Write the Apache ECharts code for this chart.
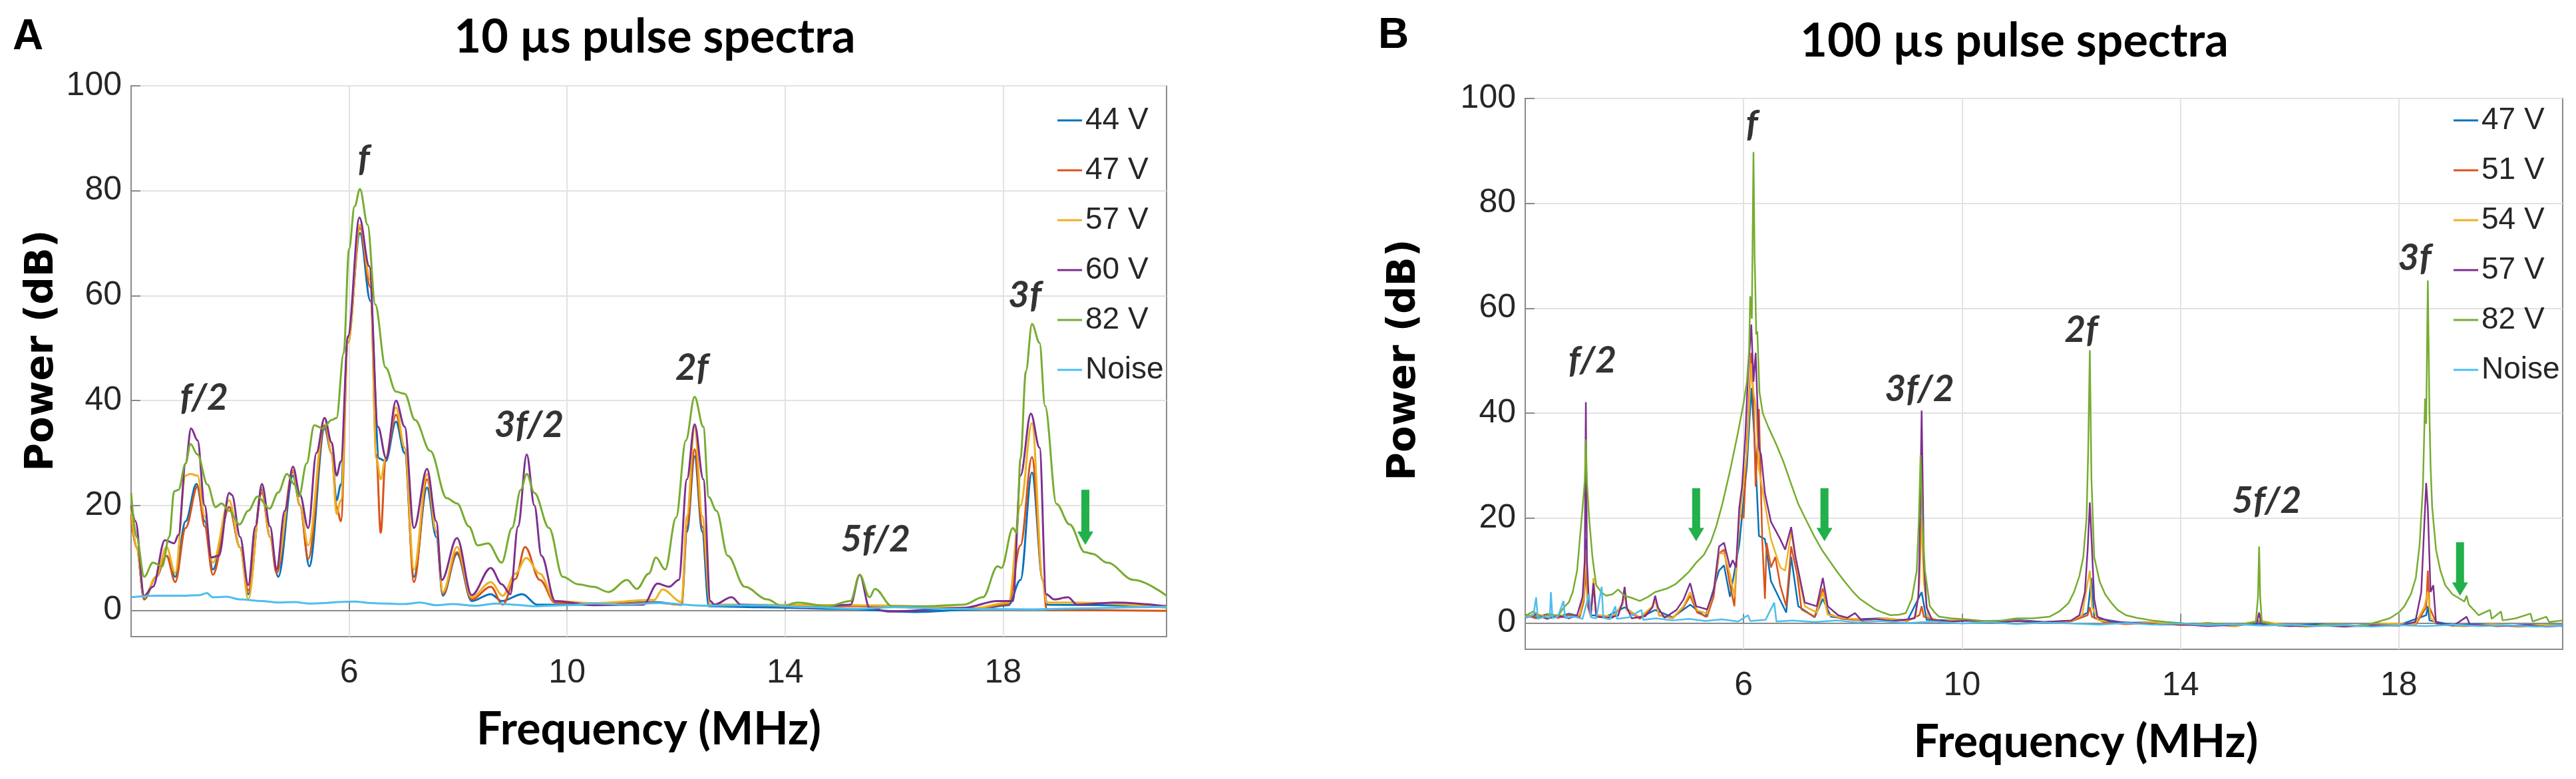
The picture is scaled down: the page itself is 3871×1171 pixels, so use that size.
<!DOCTYPE html>
<html lang="en">
<head>
    <meta charset="UTF-8">
    <title>pulse spectra</title>
    <script src="https://cdn.jsdelivr.net/npm/echarts@6.0.0/dist/echarts.min.js"></script>
    <style>
        * {
            margin: 0;
            padding: 0;
        }
        body {
            background-color: #fff;
            overflow: hidden;
        }
        #main {
            width: 3871px;
            height: 1171px;
        }
    </style>
</head>
<body>
<div id="main"></div>
<script type="text/javascript">

    // axis ticks
    var xTicks = [6, 10, 14, 18];
    var yTicks = [0, 20, 40, 60, 80, 100];

    var namesA = ['44 V', '47 V', '57 V', '60 V', '82 V', 'Noise'];
    var namesB = ['47 V', '51 V', '54 V', '57 V', '82 V', 'Noise'];
    var colors = ['#0072BD', '#D95319', '#EDB120', '#7E2F8E', '#77AC30', '#4DBEEE'];

    // ---- A: 10 us pulse spectra, [MHz, dB]
    var a44 = [[2.0,18.4],[2.1,12],[2.24,2.1],[2.46,6.4],[2.65,10.4],[2.81,6.4],[3.0,17],[3.2,24.1],[3.35,17],[3.5,7.8],[3.8,19.7],[4.0,12],[4.15,3.1],[4.4,23],[4.55,14],[4.7,6.4],[4.97,25.7],[5.1,20],[5.27,8.4],[5.55,34.7],[5.68,30],[5.77,21],[5.85,24],[5.98,52],[6.2,71.9],[6.39,59],[6.55,29],[6.67,28.4],[6.86,36],[7.02,30],[7.19,6.4],[7.43,23.4],[7.6,14],[7.72,2.8],[7.98,10.8],[8.25,1.8],[8.6,3.1],[8.8,1.8],[9.18,3.1],[9.45,1.1],[10.48,1.1],[11.6,1.6],[12.1,1.1],[12.2,15],[12.34,29.4],[12.48,15],[12.6,0.8],[13.5,0.6],[15,0.3],[16.4,-0.3],[17.5,0.2],[18.1,1],[18.32,5.8],[18.53,26.3],[18.73,5.8],[18.81,1.1],[21,0.8]];
    var a47 = [[2.0,17.7],[2.1,12],[2.24,2.1],[2.46,6.4],[2.65,10.4],[2.81,5.4],[3.0,15.7],[3.22,23.7],[3.35,16],[3.5,6.8],[3.8,19.7],[4.0,12],[4.15,3.8],[4.4,22.4],[4.55,14],[4.67,7.1],[4.97,26.4],[5.1,20],[5.25,9.8],[5.55,35.3],[5.68,30],[5.77,19.7],[5.85,17],[5.98,51],[6.2,72.9],[6.39,61.6],[6.5,29.7],[6.58,14.8],[6.67,29],[6.86,37.3],[7.02,31],[7.19,5.4],[7.43,25],[7.6,15],[7.72,3.1],[7.98,11.1],[8.25,2.1],[8.6,4.5],[8.82,1.1],[9.05,6],[9.23,12.1],[9.5,5.8],[9.78,1.5],[10.48,1.1],[11.6,1.5],[12.1,1.1],[12.2,16],[12.34,30.7],[12.48,16],[12.63,1.1],[15.37,0.8],[17.5,0.3],[18.1,1.2],[18.32,12.4],[18.53,29.2],[18.73,5.8],[18.8,0.1],[21,-0.1]];
    var a57 = [[2.0,19.5],[2.1,12],[2.24,2.5],[2.46,6.4],[2.65,12.1],[2.81,7.1],[3.0,25.7],[3.09,26],[3.22,25.7],[3.35,18],[3.5,9.1],[3.8,21],[4.0,12],[4.15,2.1],[4.4,23.4],[4.55,14],[4.67,8.1],[4.97,26.7],[5.1,20],[5.25,12.4],[5.55,36.7],[5.68,30],[5.77,18.4],[5.85,21],[5.98,51],[6.2,73.5],[6.39,63],[6.5,29],[6.58,25],[6.67,29],[6.86,38.7],[7.02,31],[7.19,7.8],[7.43,26],[7.6,15],[7.72,3.5],[7.98,12.1],[8.25,2.5],[8.6,5.4],[8.82,2.8],[9.05,7],[9.25,10],[9.5,7],[9.78,1.8],[10.48,1.4],[11.6,2],[11.75,4],[12.1,1.6],[12.2,18],[12.34,35],[12.48,18],[12.63,1.1],[15.4,1],[17.5,0.5],[18.1,1.5],[18.32,20],[18.53,35.7],[18.73,5.8],[18.8,1.5],[19.3,1.5],[21,0.5]];
    var a60 = [[2.0,20],[2.08,17],[2.24,2.8],[2.4,4.5],[2.62,13.4],[2.79,12.8],[2.87,14.4],[3.0,28],[3.1,34.7],[3.22,32.4],[3.35,20],[3.47,10.1],[3.61,10.4],[3.8,22.4],[3.85,22],[4.0,14],[4.15,4.8],[4.28,16],[4.4,24.1],[4.55,16],[4.67,7.8],[4.82,19],[4.97,27.4],[5.1,22],[5.25,15.7],[5.4,30],[5.55,36.7],[5.68,32],[5.77,25.7],[5.85,28.4],[5.98,52.3],[6.19,74.9],[6.37,65.6],[6.53,35],[6.68,29],[6.86,40],[7.02,35],[7.19,15.7],[7.43,27],[7.6,17],[7.7,5.8],[7.98,13.8],[8.25,2.9],[8.6,8.1],[8.8,5],[8.96,3.1],[9.1,16],[9.26,29.7],[9.4,20],[9.53,10.4],[9.78,1.8],[10.48,1],[11.4,1.1],[11.66,5.1],[11.87,4.5],[12.05,5.8],[12.2,25],[12.34,35.5],[12.5,25],[12.63,1.8],[12.7,1.1],[13.02,2.5],[13.19,1.1],[14.5,0.5],[15.2,1.1],[15.37,6.8],[15.55,0.5],[15.89,-0.2],[17.28,0.5],[17.9,1.8],[18.18,1.8],[18.32,25.7],[18.51,37.5],[18.67,31],[18.79,3.1],[18.94,2.1],[19.19,2.5],[19.36,1.1],[20.05,1.5],[21,0.8]];
    var a82 = [[2.0,22.4],[2.1,14],[2.24,6.4],[2.4,9.1],[2.57,8.4],[2.7,14],[2.79,22.7],[2.87,23],[3.0,28],[3.09,31.7],[3.22,29.7],[3.4,24],[3.55,19.7],[3.66,20.4],[3.8,19],[3.99,16.4],[4.15,19],[4.32,21.7],[4.54,19.4],[4.7,22.5],[4.86,26],[5.0,24],[5.08,21.7],[5.22,28],[5.36,35.3],[5.52,34.7],[5.68,36.3],[5.77,36.7],[5.9,49],[6.0,68.9],[6.1,77],[6.2,80.3],[6.34,73.5],[6.48,58.3],[6.67,46.3],[6.86,41.7],[7.02,41.3],[7.21,36.3],[7.49,30.4],[7.79,21.4],[7.98,20.4],[8.2,16],[8.36,12.4],[8.55,12.8],[8.8,9.1],[8.99,15.7],[9.15,23],[9.26,26],[9.4,22.4],[9.67,15.7],[9.92,6.4],[10.2,5],[10.48,4.5],[10.76,3.5],[11.1,5.8],[11.28,4.1],[11.5,7],[11.63,10.1],[11.8,7.8],[12.0,17.7],[12.18,32.4],[12.34,40.7],[12.5,35],[12.6,21.6],[12.74,19],[12.95,10.4],[13.26,4.5],[13.67,2.1],[13.95,0.8],[14.23,1.5],[14.78,0.8],[15.2,1.8],[15.37,6.8],[15.55,2.5],[15.65,4.1],[15.96,0.8],[16.59,0.8],[17.28,1.1],[17.63,2.5],[17.9,8.4],[17.97,8.1],[18.18,15.7],[18.25,14.8],[18.32,29],[18.42,45.6],[18.53,54.6],[18.67,51],[18.77,39],[18.98,20.3],[19.22,16.4],[19.5,11.1],[19.64,10.8],[19.91,9.1],[20.4,5.8],[21,2.8]];
    var aNoise = [[2.0,2.5],[2.46,2.8],[3.0,2.8],[3.25,2.9],[3.39,3.3],[3.5,2.5],[3.75,2.6],[4.0,2.1],[4.4,1.8],[4.7,1.5],[5.0,1.6],[5.27,1.3],[5.55,1.4],[5.8,1.6],[6.1,1.7],[6.4,1.4],[6.67,1.3],[7.0,1.2],[7.3,1.5],[7.6,1.0],[7.9,1.2],[8.3,0.9],[8.7,1.3],[9.0,1.1],[9.4,0.8],[10.0,1.0],[10.5,1.3],[11.0,1.1],[11.7,1.4],[12.5,0.9],[13.5,1.0],[14.5,0.6],[15.3,0.3],[16.0,0.6],[17.0,0.3],[18.5,0.2],[19.5,0.4],[20.5,0.6],[21,0.7]];

    // ---- B: 100 us pulse spectra, [MHz, dB]
    var b47 = [[2.0,1.6],[2.2,1.1],[2.4,1.7],[2.6,1.2],[2.8,1.8],[3.0,1.3],[3.07,6],[3.11,16],[3.15,4],[3.2,1.5],[3.5,1.3],[3.82,3],[4.1,1],[4.38,2.5],[4.7,1.1],[5.02,3.5],[5.3,1.2],[5.55,10],[5.64,11],[5.75,5],[5.92,15],[6.06,30],[6.14,44.8],[6.2,35],[6.28,16.6],[6.39,16],[6.5,8],[6.78,2],[6.87,12.6],[7.0,3.2],[7.3,1.1],[7.45,4.6],[7.6,1.2],[8.0,0.7],[8.5,0.9],[9.0,0.5],[9.26,5.9],[9.35,0.6],[10.0,0.5],[10.5,0.3],[11.0,0.6],[11.5,0.2],[12.0,0.4],[12.3,2],[12.37,8.6],[12.42,1],[13.0,0],[13.5,0.2],[14.0,-0.3],[14.5,0],[15.0,-0.4],[15.5,-0.1],[16.0,-0.5],[16.5,-0.2],[17.0,-0.6],[17.5,-0.3],[18.0,-0.4],[18.5,1.5],[18.53,3.2],[18.56,0.5],[19.0,-0.4],[19.5,-0.2],[20.0,-0.5],[20.5,-0.3],[21,-0.4]];
    var b51 = [[2.0,1.5],[2.2,0.9],[2.4,1.6],[2.6,1.0],[2.8,1.5],[3.0,1.2],[3.07,4],[3.11,10],[3.15,3],[3.2,1.3],[3.25,7.2],[3.3,1.5],[3.6,1.0],[3.78,3.5],[3.82,6.2],[3.86,2.5],[4.1,0.8],[4.33,3],[4.38,4.6],[4.45,1.5],[4.7,0.9],[4.9,3],[5.02,5.2],[5.15,2],[5.33,1.2],[5.45,5],[5.55,13.3],[5.64,14],[5.75,7.2],[5.83,3.2],[5.92,20.7],[6.0,20],[6.06,34.1],[6.14,51.5],[6.18,42],[6.22,26],[6.28,40.8],[6.34,16],[6.39,4.6],[6.42,15.3],[6.5,10.6],[6.58,12.6],[6.67,7.2],[6.78,3.2],[6.87,14.6],[6.98,9.3],[7.06,2.6],[7.3,1.2],[7.45,6.6],[7.54,1.8],[7.8,0.8],[8.2,0.5],[8.6,0.9],[9.0,0.4],[9.22,1.5],[9.26,3.2],[9.3,1.2],[9.6,0.3],[10.0,0.6],[10.5,0.1],[11.0,0.4],[11.5,0],[12.0,0.3],[12.3,1.5],[12.34,3],[12.38,1.2],[12.6,0.2],[13.0,-0.2],[13.5,0.1],[14.0,-0.4],[14.5,-0.2],[15.0,-0.6],[15.44,0.3],[15.8,-0.3],[16.3,-0.7],[16.8,-0.3],[17.3,-0.6],[17.8,-0.2],[18.3,-0.4],[18.5,3],[18.53,10],[18.56,3],[18.7,-0.3],[19.2,-0.6],[19.7,-0.3],[20.2,-0.7],[20.6,-0.4],[21,-0.6]];
    var b54 = [[2.0,1.2],[2.2,1.8],[2.4,1.1],[2.6,1.6],[2.8,1.0],[3.0,1.6],[3.07,5],[3.11,14],[3.15,4],[3.2,1.4],[3.25,8.6],[3.3,1.6],[3.6,1.2],[3.78,3.6],[3.82,6],[3.86,2.6],[4.1,1.1],[4.33,3.2],[4.38,4.6],[4.45,1.4],[4.7,1.0],[4.9,3.2],[5.02,5.9],[5.15,2.4],[5.33,1.8],[5.45,6],[5.55,13.3],[5.64,13.3],[5.75,9.3],[5.83,5],[5.92,19.3],[6.06,32.8],[6.14,49.5],[6.18,44],[6.22,41.5],[6.28,29.4],[6.39,22.7],[6.5,16],[6.67,10.6],[6.76,10],[6.87,17.3],[7.0,9.3],[7.12,3.2],[7.34,2],[7.45,5.9],[7.54,1.6],[7.8,1],[8.2,0.6],[8.6,0.9],[9.0,0.5],[9.15,1.2],[9.22,7.6],[9.26,20],[9.3,7.6],[9.38,1.2],[9.6,0.4],[10.0,0.7],[10.5,0.2],[11.0,0.5],[11.5,0.1],[12.0,0.4],[12.2,1.5],[12.29,7.2],[12.34,10],[12.38,3],[12.5,0.5],[13.0,-0.1],[13.5,0.2],[14.0,-0.3],[14.5,-0.1],[15.0,-0.5],[15.44,0.5],[15.8,-0.2],[16.3,-0.6],[16.8,-0.2],[17.3,-0.5],[17.8,-0.1],[18.3,-0.2],[18.47,3.2],[18.53,6],[18.58,1],[18.7,-0.2],[19.2,-0.5],[19.7,-0.2],[20.2,-0.6],[20.6,-0.3],[21,-0.5]];
    var b57 = [[2.0,1.0],[2.2,1.6],[2.4,0.8],[2.6,1.4],[2.8,0.9],[2.95,1.5],[3.05,5],[3.09,12],[3.11,42.1],[3.13,12],[3.17,3],[3.2,1.6],[3.25,7.6],[3.3,1.2],[3.5,1.0],[3.7,1.4],[3.78,4],[3.82,6.9],[3.86,3],[3.95,0.9],[4.2,1.3],[4.33,3],[4.38,5.2],[4.43,3],[4.55,1.0],[4.77,2.5],[4.9,4.5],[5.02,7.6],[5.13,3.2],[5.33,2.6],[5.45,6],[5.55,14.6],[5.64,15.3],[5.75,10.6],[5.8,12],[5.86,10.6],[5.92,22],[5.97,26],[6.03,35.4],[6.08,47.5],[6.14,56.9],[6.18,46],[6.22,51.5],[6.28,33.4],[6.32,32],[6.39,24.7],[6.5,19.3],[6.67,16],[6.76,14],[6.87,18.3],[6.95,12.6],[7.12,3.9],[7.34,3.2],[7.45,8.6],[7.54,3.2],[7.73,1.5],[7.9,1.0],[8.04,1.9],[8.15,0.6],[8.4,0.8],[8.7,0.4],[9.0,0.7],[9.13,0.9],[9.2,5],[9.22,12.6],[9.26,40.5],[9.3,12],[9.35,3],[9.45,0.6],[9.8,0.3],[10.2,0.5],[10.6,0.1],[11.0,0.4],[11.5,0.2],[12.0,0.5],[12.15,1.5],[12.25,5.9],[12.3,14],[12.34,23],[12.38,14],[12.42,4.6],[12.48,1.2],[12.7,0.3],[13.2,0],[13.6,-0.3],[14.0,-0.2],[14.5,-0.6],[15.0,-0.3],[15.4,0.1],[15.44,2],[15.48,-0.2],[16.0,-0.6],[16.5,-0.4],[17.0,-0.7],[17.5,-0.4],[18.0,-0.5],[18.3,0.2],[18.41,5.9],[18.5,26.7],[18.53,22],[18.58,5.9],[18.63,7.2],[18.68,0],[19.0,-0.5],[19.24,1.2],[19.3,-0.3],[19.8,-0.6],[20.3,-0.4],[20.7,-0.7],[21,-0.5]];
    var b82 = [[2.0,1.4],[2.15,2.2],[2.3,1.0],[2.45,1.8],[2.6,1.3],[2.7,2.9],[2.8,4],[2.87,5.9],[2.95,10],[3.0,16],[3.05,22],[3.09,27],[3.11,35],[3.13,27],[3.17,20],[3.23,12.6],[3.3,7.2],[3.4,5.8],[3.48,5.2],[3.6,5.5],[3.7,6.4],[3.82,5.2],[3.95,4.8],[4.1,4.2],[4.25,5],[4.38,5.9],[4.6,6.6],[4.75,7.4],[4.88,8.6],[5.0,9.8],[5.13,11.5],[5.27,13],[5.4,15.5],[5.5,18.5],[5.61,22.7],[5.75,29],[5.89,36],[6.0,42],[6.06,46],[6.1,52],[6.12,62.3],[6.15,58],[6.18,89.8],[6.2,70],[6.21,66],[6.23,55],[6.25,55.6],[6.29,44],[6.35,40],[6.45,37.4],[6.6,34],[6.73,30.7],[6.87,26.5],[7.0,22.7],[7.15,19.5],[7.29,16.6],[7.43,14],[7.57,11.9],[7.71,9.8],[7.85,7.9],[8.0,6],[8.13,4.6],[8.27,3.6],[8.41,2.6],[8.55,2],[8.69,1.5],[8.85,1.6],[8.97,1.9],[9.08,4.6],[9.17,10],[9.21,20],[9.24,32],[9.27,20],[9.32,10],[9.41,3.2],[9.5,2],[9.58,1.2],[9.8,0.9],[10.08,0.7],[10.4,0.4],[10.74,0.5],[11.0,0.9],[11.3,0.9],[11.6,1.2],[11.78,2.2],[11.95,3.8],[12.05,5.9],[12.15,9],[12.22,12.6],[12.28,20],[12.31,32.8],[12.34,52],[12.36,35],[12.37,27.4],[12.42,12.6],[12.52,7.9],[12.62,5.5],[12.73,3.9],[12.85,2.5],[13.0,1.5],[13.2,1],[13.48,0.5],[13.75,0.2],[14.0,0],[14.3,-0.3],[14.7,-0.1],[15.0,-0.4],[15.38,0.2],[15.42,5],[15.44,14.6],[15.46,5],[15.49,0.2],[15.8,-0.5],[16.06,-0.3],[16.4,-0.6],[16.8,-0.2],[17.2,-0.5],[17.42,-0.3],[17.6,0.2],[17.83,0.9],[18.0,2],[18.1,3.2],[18.22,5.5],[18.31,8.6],[18.38,15],[18.44,26],[18.48,42.8],[18.5,38],[18.53,65.3],[18.56,40],[18.58,30],[18.61,22],[18.68,14],[18.76,10],[18.85,7.2],[18.98,5.5],[19.12,4.6],[19.2,4.1],[19.24,5.2],[19.28,3.5],[19.46,1.5],[19.67,2.5],[19.7,0.8],[19.87,2.2],[19.9,0.5],[20.14,0.9],[20.41,1.8],[20.45,0.3],[20.7,1.2],[20.75,0.2],[21,0.5]];
    var bNoise = [[2.0,1.0],[2.15,1.5],[2.2,4.9],[2.23,0.8],[2.35,1.2],[2.45,1.0],[2.47,5.9],[2.5,0.9],[2.6,1.3],[2.7,4.2],[2.73,1.0],[2.9,1.2],[3.05,0.8],[3.17,5.6],[3.2,1.1],[3.3,0.9],[3.4,6.9],[3.43,1.0],[3.55,0.7],[3.65,3.2],[3.68,0.8],[3.9,1.1],[4.13,2.5],[4.16,0.6],[4.4,0.9],[4.7,0.5],[5.0,0.8],[5.3,0.4],[5.6,0.7],[5.9,0.3],[6.08,1.5],[6.12,0.4],[6.4,0.6],[6.56,3.9],[6.6,0.3],[6.9,0.5],[7.3,0.2],[7.7,0.5],[8.1,0.1],[8.5,0.4],[9.0,0],[9.5,0.3],[10,-0.1],[10.5,0.2],[11,-0.2],[11.5,0.1],[12,-0.1],[12.5,-0.3],[13,0],[13.5,-0.3],[14,-0.1],[14.5,-0.4],[15,-0.2],[15.5,-0.5],[16,-0.3],[16.5,-0.6],[17,-0.4],[17.5,-0.7],[18,-0.4],[18.5,-0.6],[19,-0.3],[19.5,-0.6],[20,-0.4],[20.5,-0.7],[21,-0.5]];

    var dataA = [a44, a47, a57, a60, a82, aNoise];
    var dataB = [b47, b51, b54, b57, b82, bNoise];

    // peak labels [text, MHz, dB]
    var peaksA = [['f/2', 3.34, 40.5], ['f', 6.27, 86], ['3f/2', 9.3, 35.3], ['2f', 12.29, 46.2], ['5f/2', 15.66, 13.5], ['3f', 18.4, 60]];
    var peaksB = [['f/2', 3.23, 50], ['f', 6.15, 95], ['3f/2', 9.22, 44.5], ['2f', 12.18, 55.8], ['5f/2', 15.58, 23.2], ['3f', 18.29, 69.5]];
    // green arrows [MHz, from dB, to dB]
    var arrowsA = [[19.51, 23, 12.5]];
    var arrowsB = [[5.13, 25.7, 15.6], [7.48, 25.7, 15.6], [19.12, 15.4, 5.2]];

    var tickFont = "'Liberation Sans', Arial, sans-serif";
    var boldFont = "Lato, 'Noto Sans', sans-serif";
    var arrowColor = '#22B04B';

    function makeX(idx) {
        return {
            type: 'value', gridIndex: idx, min: 2, max: 21,
            name: 'Frequency (MHz)', nameLocation: 'middle', nameGap: 106,
            nameTextStyle: {fontSize: 68, fontWeight: 'bold', fontFamily: boldFont, color: '#000',
                padding: idx == 1 ? [0, 0, 0, 126] : 0},
            axisLine: {show: true, lineStyle: {color: '#8a8a8a', width: 2}},
            axisTick: {show: true, inside: true, length: 14, customValues: xTicks, lineStyle: {color: '#8a8a8a', width: 2}},
            axisLabel: {customValues: xTicks, margin: 30, fontSize: 50, fontFamily: tickFont, color: '#262626'},
            splitLine: {show: true, lineStyle: {color: '#e2e2e2', width: 2}}
        };
    }

    // shift: nudges the rotated name up the axis
    function makeY(idx, gap, shift) {
        return {
            type: 'value', gridIndex: idx, min: -5, max: 100,
            name: 'Power (dB)', nameLocation: 'middle', nameGap: gap,
            nameTextStyle: {fontSize: 58, fontWeight: 'bold', fontFamily: "'DejaVu Sans', sans-serif", color: '#000',
                padding: [0, 0, 0, shift]},
            axisLine: {show: true, lineStyle: {color: '#8a8a8a', width: 2}},
            axisTick: {show: true, inside: true, length: 14, customValues: yTicks, lineStyle: {color: '#8a8a8a', width: 2}},
            axisLabel: {customValues: yTicks, margin: 14, fontSize: 50, fontFamily: tickFont, color: '#262626'},
            splitLine: {show: true, lineStyle: {color: '#e2e2e2', width: 2}}
        };
    }

    function makeSeries(idx, prefix, names, data, smooth, width) {
        var list = [];
        for (var i = 0; i < names.length; i++) {
            list.push({
                type: 'line', name: prefix + names[i],
                xAxisIndex: idx, yAxisIndex: idx,
                data: data[i], showSymbol: false, symbol: 'none',
                smooth: smooth, smoothMonotone: 'x',
                itemStyle: {color: colors[i]},
                lineStyle: {color: colors[i], width: width},
                z: 2 + i
            });
        }
        return list;
    }

    // peak labels
    function makeNotes(idx, peaks) {
        return {
            type: 'scatter', name: 'notes' + idx,
            xAxisIndex: idx, yAxisIndex: idx,
            symbolSize: 1, silent: true, z: 20,
            itemStyle: {color: 'rgba(0,0,0,0)'},
            label: {
                show: true, position: 'inside', formatter: '{b}',
                fontSize: 55, fontWeight: 'bold', fontStyle: 'italic',
                fontFamily: boldFont, color: '#000'
            },
            data: peaks.map(function (p) { return {name: p[0], value: [p[1], p[2]]}; })
        };
    }

    // green down arrows: shaft + head, placed through the axes
    function makeArrows(idx, arrows) {
        return {
            type: 'custom', name: 'arrows' + idx,
            xAxisIndex: idx, yAxisIndex: idx,
            silent: true, z: 21,
            encode: {x: 0, y: [1, 2]},
            data: arrows,
            renderItem: function (params, api) {
                var top = api.coord([api.value(0), api.value(1)]);
                var tip = api.coord([api.value(0), api.value(2)]);
                var headH = 20, headW = 24, shaftW = 12;
                return {
                    type: 'group',
                    children: [
                        {type: 'rect', shape: {x: top[0] - shaftW / 2, y: top[1], width: shaftW, height: tip[1] - headH - top[1] + 1},
                            style: {fill: arrowColor}},
                        {type: 'polygon', shape: {points: [[tip[0] - headW / 2, tip[1] - headH], [tip[0] + headW / 2, tip[1] - headH], [tip[0], tip[1]]]},
                            style: {fill: arrowColor}}
                    ]
                };
            }
        };
    }

    function makeLegend(prefix, names, left) {
        return {
            orient: 'vertical', left: left, top: 153,
            data: names.map(function (n) { return prefix + n; }),
            icon: 'rect', itemWidth: 37, itemHeight: 3, itemGap: 29,
            selectedMode: false,
            formatter: function (n) { return n.slice(prefix.length); },
            textStyle: {fontSize: 46, lineHeight: 46, fontFamily: tickFont, color: '#262626'}
        };
    }

    var myChart = echarts.init(document.getElementById('main'));
    var option = {
        animation: false,
        backgroundColor: '#fff',
        grid: [
            {left: 197, top: 129, width: 1556, height: 828, show: true, borderColor: '#8a8a8a', borderWidth: 2},
            {left: 2292, top: 148, width: 1559, height: 828, show: true, borderColor: '#8a8a8a', borderWidth: 2}
        ],
        xAxis: [makeX(0), makeX(1)],
        yAxis: [makeY(0, 104, 32), makeY(1, 152, 42)],
        legend: [makeLegend('A:', namesA, 1584), makeLegend('B:', namesB, 3682)],
        graphic: [
            {type: 'text', x: 42, y: 56, style: {text: 'A', fontSize: 64, fontWeight: 'bold', fontFamily: tickFont, fill: '#000', align: 'center', verticalAlign: 'middle'}},
            {type: 'text', x: 2094, y: 54, style: {text: 'B', fontSize: 64, fontWeight: 'bold', fontFamily: tickFont, fill: '#000', align: 'center', verticalAlign: 'middle'}},
            {type: 'text', x: 984, y: 56, style: {text: '10 µs pulse spectra', fontSize: 70, fontWeight: 'bold', fontFamily: boldFont, fill: '#000', align: 'center', verticalAlign: 'middle'}},
            {type: 'text', x: 3027, y: 62, style: {text: '100 µs pulse spectra', fontSize: 70, fontWeight: 'bold', fontFamily: boldFont, fill: '#000', align: 'center', verticalAlign: 'middle'}}
        ],
        series: []
            .concat(makeSeries(0, 'A:', namesA, dataA, 0.35, 3))
            .concat([makeNotes(0, peaksA), makeArrows(0, arrowsA)])
            .concat(makeSeries(1, 'B:', namesB, dataB, false, 2.5))
            .concat([makeNotes(1, peaksB), makeArrows(1, arrowsB)])
    };
    myChart.setOption(option);
</script>
</body>
</html>
